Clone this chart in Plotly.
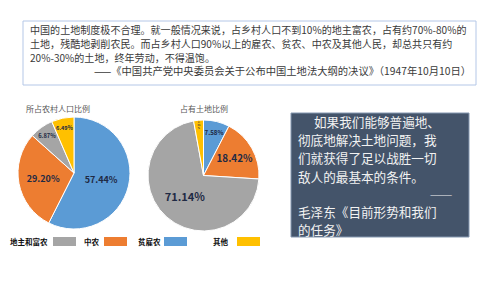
import plotly.graph_objects as go

W, H = 500, 281
FONT = "Noto Sans CJK SC"

# ---- data ----
categories = ["贫雇农", "中农", "地主和富农", "其他"]
population_share = [57.44, 29.20, 6.87, 6.49]
land_share = [7.58, 18.42, 71.14, 2.86]
pop_labels = ["57.44%", "29.20%", "6.87%", "6.49%"]
land_labels = ["7.58%", "18.42%", "71.14%", "2.<br>86<br>%"]
colors = {"贫雇农": "#5B9BD5", "中农": "#ED7D31", "地主和富农": "#A5A5A5", "其他": "#FFC000"}
legend_order = ["地主和富农", "中农", "贫雇农", "其他"]
pie_titles = ["所占农村人口比例", "占有土地比例"]

quote_lines = [
    "中国的土地制度极不合理。就一般情况来说，占乡村人口不到10%的地主富农，占有约70%-80%的",
    "土地，残酷地剥削农民。而占乡村人口90%以上的雇农、贫农、中农及其他人民，却总共只有约",
    "20%-30%的土地，终年劳动，不得温饱。",
]
quote_source = "——《中国共产党中央委员会关于公布中国土地法大纲的决议》（1947年10月10日）"
mao_lines = ["如果我们能够普遍地、", "彻底地解决土地问题，我", "们就获得了足以战胜一切", "敌人的最基本的条件。"]
mao_dash = "———"
mao_source = ["毛泽东《目前形势和我们", "的任务》"]


def px(x):
    return x / W


def py(y):
    return 1 - y / H


fig = go.Figure()
cols = [colors[c] for c in categories]

fig.add_trace(go.Pie(
    labels=categories, values=population_share, text=pop_labels,
    texttemplate="%{text}", textposition="inside", insidetextorientation="horizontal",
    sort=False, direction="clockwise", rotation=0,
    marker=dict(colors=cols, line=dict(color="white", width=1)),
    textfont=dict(family=FONT, size=9, color="#1F2A44", weight="bold"),
    domain=dict(x=[px(18), px(130)], y=[py(229), py(117)]),
    showlegend=False, hoverinfo="label+value",
))
fig.add_trace(go.Pie(
    labels=categories, values=land_share, text=land_labels,
    texttemplate="%{text}", textposition="inside", insidetextorientation="horizontal",
    sort=False, direction="clockwise", rotation=0,
    marker=dict(colors=cols, line=dict(color="white", width=1)),
    textfont=dict(family=FONT, size=11, color="#1F2A44", weight="bold"),
    domain=dict(x=[px(148), px(259)], y=[py(231), py(120)]),
    showlegend=False, hoverinfo="label+value",
))

shapes = []
ann = []

# top quote box
shapes.append(dict(type="rect", xref="paper", yref="paper", x0=px(23), x1=px(476), y0=py(85), y1=py(21),
                   line=dict(color="#B4C7E7", width=1), fillcolor="white", layer="below"))
for i, t in enumerate(quote_lines):
    ann.append(dict(x=px(28), y=py(30 + i * 13.7), text=t, xanchor="left", yanchor="middle",
                    font=dict(family=FONT, size=10.05, color="#3A3A3A")))
ann.append(dict(x=px(473), y=py(71), text=quote_source, xanchor="right", yanchor="middle",
                font=dict(family=FONT, size=10.3, color="#3A3A3A")))

# pie titles
ann.append(dict(x=px(58), y=py(109), text=pie_titles[0], xanchor="center", yanchor="middle",
                font=dict(family=FONT, size=8, color="#595959")))
ann.append(dict(x=px(204), y=py(109), text=pie_titles[1], xanchor="center", yanchor="middle",
                font=dict(family=FONT, size=8, color="#595959")))

# legend (label followed by colour box)
leg_text_x = [29, 92, 149, 221]
leg_box_x = [53, 104, 164, 237]
for name, tx, bx in zip(legend_order, leg_text_x, leg_box_x):
    ann.append(dict(x=px(tx), y=py(241.5), text=name, xanchor="center", yanchor="middle",
                    font=dict(family=FONT, size=7.5, color="#111111", weight="bold")))
    shapes.append(dict(type="rect", xref="paper", yref="paper", x0=px(bx), x1=px(bx + 23),
                       y0=py(246), y1=py(237), line=dict(width=0), fillcolor=colors[name]))

# right dark box
shapes.append(dict(type="rect", xref="paper", yref="paper", x0=px(291), x1=px(469), y0=py(237), y1=py(113),
                   line=dict(color="#8497B0", width=1), fillcolor="#44546A", layer="below"))
MS = 12.6
step = 18.35
y0 = 121.0
for i, t in enumerate(mao_lines):
    ann.append(dict(x=px(312 if i == 0 else 296), y=py(y0 + i * step), text=t, xanchor="left",
                    yanchor="middle", font=dict(family=FONT, size=MS, color="#F2F2F2")))
ann.append(dict(x=px(454), y=py(y0 + 4 * step), text=mao_dash, xanchor="right", yanchor="middle",
                font=dict(family=FONT, size=9, color="#F2F2F2")))
for i, t in enumerate(mao_source):
    ann.append(dict(x=px(296), y=py(y0 + (5 + i) * step - 1.5), text=t, xanchor="left", yanchor="middle",
                    font=dict(family=FONT, size=MS, color="#F2F2F2")))

for a in ann:
    a.update(xref="paper", yref="paper", showarrow=False)

fig.update_layout(
    width=W, height=H, margin=dict(l=0, r=0, t=0, b=0),
    paper_bgcolor="white", plot_bgcolor="white",
    shapes=shapes, annotations=ann,
    font=dict(family=FONT),
)
fig.write_html("out.html")
